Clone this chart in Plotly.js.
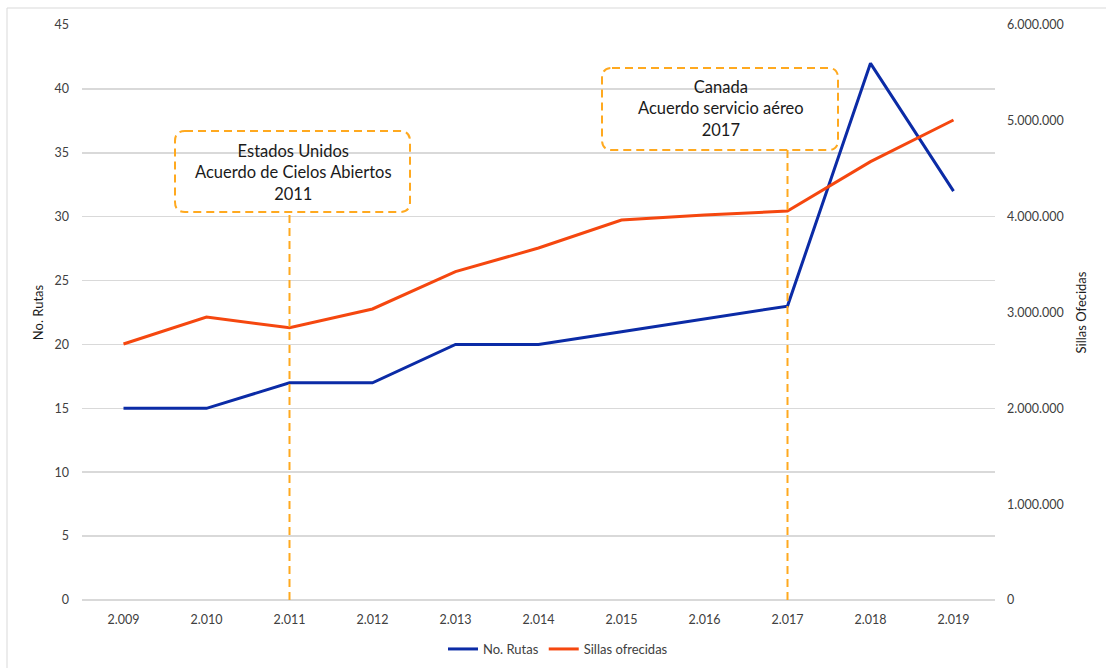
<!DOCTYPE html>
<html>
<head>
<meta charset="utf-8">
<script src="https://cdn.plot.ly/plotly-3.0.1.min.js"></script>
<style>
  html, body { margin: 0; padding: 0; background: #fff; }
  #chart { width: 1106px; height: 668px; }
</style>
</head>
<body>
<div id="chart"></div>
<script>
// Years (category labels as shown on the axis)
const years = ['2.009', '2.010', '2.011', '2.012', '2.013', '2.014', '2.015', '2.016', '2.017', '2.018', '2.019'];
// Number of routes (left axis)
const rutas = [15, 15, 17, 17, 20, 20, 21, 22, 23, 42, 32];
// Seats offered (right axis)
const sillas = [2671000, 2953000, 2841000, 3037000, 3426000, 3673000, 3965000, 4017000, 4059000, 4574000, 5009000];
// Agreement call-outs
const agreementYears = ['2.011', '2.017'];
const agreementTexts = [
  'Estados Unidos<br>Acuerdo de Cielos Abiertos<br>2011',
  'Canada<br>Acuerdo servicio aéreo<br>2017'
];

const W = 1106, H = 668;
const M = { l: 82, r: 111, t: 25, b: 68, autoexpand: false };
const PW = W - M.l - M.r, PH = H - M.t - M.b;
const px2x = p => (p - M.l) / PW;
const px2y = p => (H - M.b - p) / PH;

const BLUE = '#0B2BA6';
const RED = '#F5470F';
const ORANGE = '#FFA91F';
const GRID = '#D9D9D9';
const TXT = '#595959';
const FONT = 'Lato, "Open Sans", sans-serif';

// Rounded dashed frame in paper coordinates, given in pixel box
function roundedBox(x0, y0, x1, y1, r) {
  const P = (x, y) => px2x(x).toFixed(5) + ',' + px2y(y).toFixed(5);
  return 'M' + P(x0 + r, y0) + ' L' + P(x1 - r, y0) + ' Q' + P(x1, y0) + ' ' + P(x1, y0 + r) +
    ' L' + P(x1, y1 - r) + ' Q' + P(x1, y1) + ' ' + P(x1 - r, y1) +
    ' L' + P(x0 + r, y1) + ' Q' + P(x0, y1) + ' ' + P(x0, y1 - r) +
    ' L' + P(x0, y0 + r) + ' Q' + P(x0, y0) + ' ' + P(x0 + r, y0) + ' Z';
}

const boxes = [
  { x0: 175, y0: 131, x1: 410, y1: 212, tx: 293, ty: 172 },
  { x0: 602, y0: 68, x1: 838, y1: 150, tx: 721, ty: 108 }
];

const dashStyle = { color: ORANGE, width: 2, dash: '8px,5px' };

const shapes = [
  // outer frame
  { type: 'rect', xref: 'paper', yref: 'paper', x0: px2x(7), x1: px2x(1120), y0: px2y(8), y1: px2y(690),
    line: { color: GRID, width: 1 }, layer: 'below' }
];
const annotations = [];
boxes.forEach((b, i) => {
  shapes.push({ type: 'path', xref: 'paper', yref: 'paper', path: roundedBox(b.x0, b.y0, b.x1, b.y1, 10),
    line: dashStyle, fillcolor: 'rgba(0,0,0,0)' });
  shapes.push({ type: 'line', xref: 'x', yref: 'paper', x0: years.indexOf(agreementYears[i]), x1: years.indexOf(agreementYears[i]),
    y0: 0, y1: px2y(b.y1), line: dashStyle });
  annotations.push({ xref: 'paper', yref: 'paper', x: px2x(b.tx), y: px2y(b.ty), text: agreementTexts[i],
    showarrow: false, xanchor: 'center', yanchor: 'middle', align: 'center',
    font: { family: FONT, size: 16.5, color: '#1a1a1a' } });
});

const data = [
  { x: years, y: rutas, type: 'scatter', mode: 'lines', name: 'No. Rutas',
    line: { color: BLUE, width: 3 }, yaxis: 'y' },
  { x: years, y: sillas, type: 'scatter', mode: 'lines', name: 'Sillas ofrecidas',
    line: { color: RED, width: 3 }, yaxis: 'y2' }
];

const tickFont = { family: FONT, size: 12.5, color: '#404040' };

const layout = {
  width: W, height: H,
  margin: M,
  paper_bgcolor: '#fff', plot_bgcolor: '#fff',
  separators: ',.',
  font: { family: FONT, size: 12, color: TXT },
  showlegend: true,
  legend: { orientation: 'h', x: px2x(558), xanchor: 'center', y: px2y(649), yanchor: 'middle',
    font: { family: FONT, size: 13, color: '#404040' }, itemwidth: 30, tracegroupgap: 0 },
  xaxis: { type: 'category', range: [-0.5, 10.5], showgrid: false, zeroline: false,
    showline: false, ticks: '', tickfont: tickFont, ticklabelstandoff: 10 },
  yaxis: { range: [0, 45], dtick: 5, showgrid: true, gridcolor: GRID, gridwidth: 1.5,
    zeroline: true, zerolinecolor: GRID, zerolinewidth: 2, showline: false, ticks: '',
    tickfont: tickFont, ticklabelstandoff: 12,
    title: { text: 'No. Rutas', font: { family: FONT, size: 13, color: '#1a1a1a' }, standoff: 7 } },
  yaxis2: { overlaying: 'y', side: 'right', range: [0, 6000000], dtick: 1000000, tickformat: ',d',
    showgrid: false, zeroline: false, showline: false, ticks: '',
    tickfont: tickFont, ticklabelstandoff: 11,
    title: { text: 'Sillas Ofecidas', font: { family: FONT, size: 13, color: '#1a1a1a' }, standoff: 14 } },
  shapes: shapes,
  annotations: annotations
};

Plotly.newPlot('chart', data, layout, { displayModeBar: false, staticPlot: true });
</script>
</body>
</html>
